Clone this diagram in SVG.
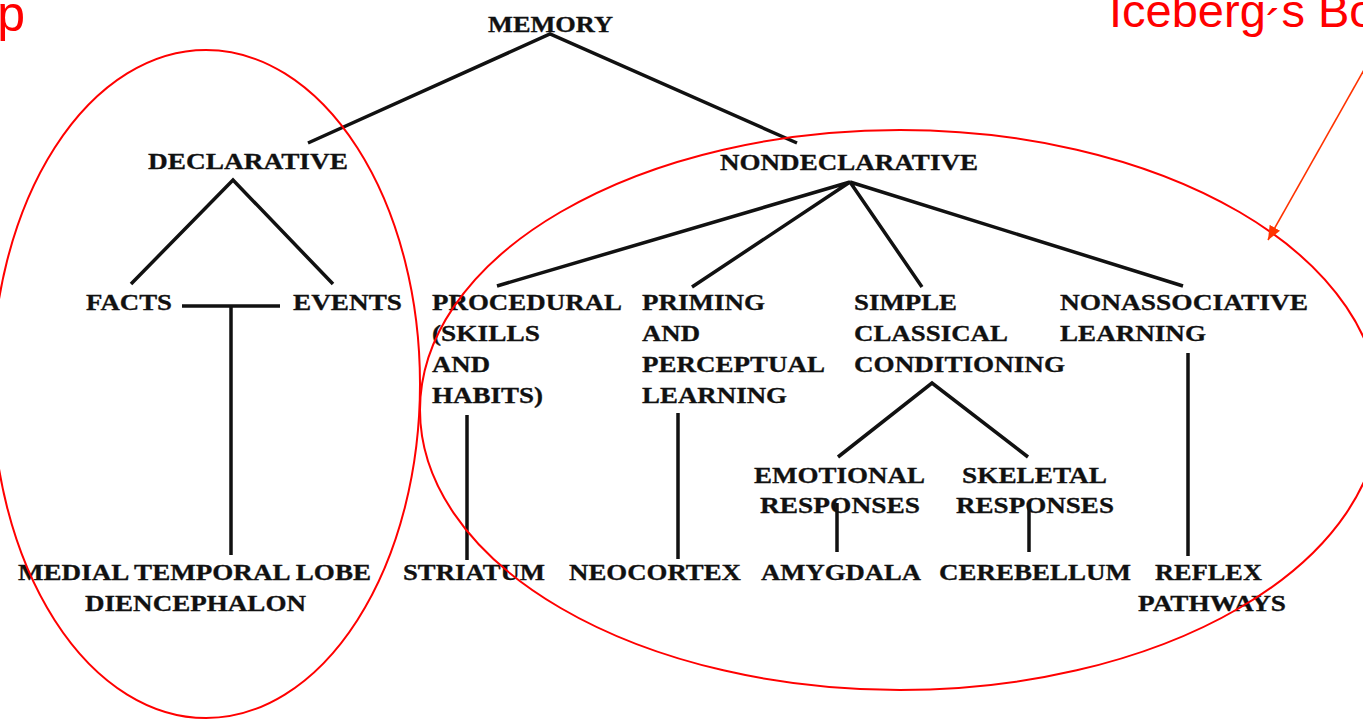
<svg xmlns="http://www.w3.org/2000/svg" width="1363" height="720" viewBox="0 0 1363 720">
<style>
.t{font-family:"Liberation Serif","Times New Roman",serif;font-weight:bold;font-size:24px;fill:#111;stroke:#111;stroke-width:0.3}
.c{stroke:#111;stroke-width:3.5;fill:none;stroke-linecap:butt}
.e{fill:none;stroke:#ff0000;stroke-width:2}
.r{font-family:"Liberation Sans",Arial,sans-serif;font-size:47px;fill:#ff0000}
</style>
<defs>
<marker id="ah" markerUnits="userSpaceOnUse" markerWidth="16" markerHeight="14" refX="14" refY="6" orient="auto">
<path d="M0,0 L14,6 L0,12 Z" fill="#ff3300"/>
</marker>
</defs>
<rect width="1363" height="720" fill="#fff"/>
<g id="connectors">
<path class="c" d="M308,143 L550,34 L797,143"/>
<path class="c" d="M131,284 L233,180 L333,284"/>
<path class="c" d="M182,306 L280,306 M231,306 L231,555"/>
<path class="c" d="M497,286 L850,182 L692,287 M850,182 L922,287 M850,182 L1183,286"/>
<path class="c" d="M467,415 L467,560"/>
<path class="c" d="M678,413 L678,559"/>
<path class="c" d="M838,457 L932,383 L1028,457"/>
<path class="c" d="M837,503 L837,552"/>
<path class="c" d="M1029,503 L1029,552"/>
<path class="c" d="M1188,353 L1188,556"/>
</g>
<g id="memory"><text class="t" x="488" y="32" textLength="125" lengthAdjust="spacingAndGlyphs">MEMORY</text></g>
<g id="declarative"><text class="t" x="148" y="169" textLength="200" lengthAdjust="spacingAndGlyphs">DECLARATIVE</text></g>
<g id="nondeclarative"><text class="t" x="720" y="170" textLength="258" lengthAdjust="spacingAndGlyphs">NONDECLARATIVE</text></g>
<g id="facts"><text class="t" x="86" y="310" textLength="86" lengthAdjust="spacingAndGlyphs">FACTS</text></g>
<g id="events"><text class="t" x="293" y="310" textLength="109" lengthAdjust="spacingAndGlyphs">EVENTS</text></g>
<g id="procedural">
<text class="t" x="432" y="310" textLength="190" lengthAdjust="spacingAndGlyphs">PROCEDURAL</text>
<text class="t" x="432" y="341" textLength="108" lengthAdjust="spacingAndGlyphs">(SKILLS</text>
<text class="t" x="432" y="372" textLength="58" lengthAdjust="spacingAndGlyphs">AND</text>
<text class="t" x="432" y="403" textLength="111" lengthAdjust="spacingAndGlyphs">HABITS)</text>
</g>
<g id="priming">
<text class="t" x="642" y="310" textLength="123" lengthAdjust="spacingAndGlyphs">PRIMING</text>
<text class="t" x="642" y="341" textLength="58" lengthAdjust="spacingAndGlyphs">AND</text>
<text class="t" x="642" y="372" textLength="183" lengthAdjust="spacingAndGlyphs">PERCEPTUAL</text>
<text class="t" x="642" y="403" textLength="145" lengthAdjust="spacingAndGlyphs">LEARNING</text>
</g>
<g id="simple-classical">
<text class="t" x="854" y="310" textLength="103" lengthAdjust="spacingAndGlyphs">SIMPLE</text>
<text class="t" x="854" y="341" textLength="154" lengthAdjust="spacingAndGlyphs">CLASSICAL</text>
<text class="t" x="854" y="372" textLength="211" lengthAdjust="spacingAndGlyphs">CONDITIONING</text>
</g>
<g id="nonassociative">
<text class="t" x="1060" y="310" textLength="248" lengthAdjust="spacingAndGlyphs">NONASSOCIATIVE</text>
<text class="t" x="1060" y="341" textLength="146" lengthAdjust="spacingAndGlyphs">LEARNING</text>
</g>
<g id="emotional">
<text class="t" x="754" y="483" textLength="171" lengthAdjust="spacingAndGlyphs">EMOTIONAL</text>
<text class="t" x="760" y="513" textLength="160" lengthAdjust="spacingAndGlyphs">RESPONSES</text>
</g>
<g id="skeletal">
<text class="t" x="962" y="483" textLength="145" lengthAdjust="spacingAndGlyphs">SKELETAL</text>
<text class="t" x="956" y="513" textLength="158" lengthAdjust="spacingAndGlyphs">RESPONSES</text>
</g>
<g id="medial-temporal">
<text class="t" x="18" y="580" textLength="353" lengthAdjust="spacingAndGlyphs">MEDIAL TEMPORAL LOBE</text>
<text class="t" x="85" y="611" textLength="221" lengthAdjust="spacingAndGlyphs">DIENCEPHALON</text>
</g>
<g id="striatum"><text class="t" x="403" y="580" textLength="142" lengthAdjust="spacingAndGlyphs">STRIATUM</text></g>
<g id="neocortex"><text class="t" x="569" y="580" textLength="172" lengthAdjust="spacingAndGlyphs">NEOCORTEX</text></g>
<g id="amygdala"><text class="t" x="761" y="580" textLength="160" lengthAdjust="spacingAndGlyphs">AMYGDALA</text></g>
<g id="cerebellum"><text class="t" x="939" y="580" textLength="192" lengthAdjust="spacingAndGlyphs">CEREBELLUM</text></g>
<g id="reflex">
<text class="t" x="1155" y="580" textLength="107" lengthAdjust="spacingAndGlyphs">REFLEX</text>
<text class="t" x="1138" y="611" textLength="148" lengthAdjust="spacingAndGlyphs">PATHWAYS</text>
</g>
<g id="annotations">
<ellipse class="e" cx="206" cy="384" rx="214" ry="334"/>
<ellipse class="e" cx="900" cy="410" rx="480" ry="280"/>
<line x1="1378" y1="45" x2="1268" y2="240" stroke="#ff3300" stroke-width="1.6" marker-end="url(#ah)"/>
<text class="r" x="25" y="31" text-anchor="end" style="font-size:50px">p</text>
<text class="r" x="1109" y="27">Iceberg<tspan dy="15">&#180;</tspan><tspan dy="-15">s Bo</tspan></text>
</g>
</svg>
